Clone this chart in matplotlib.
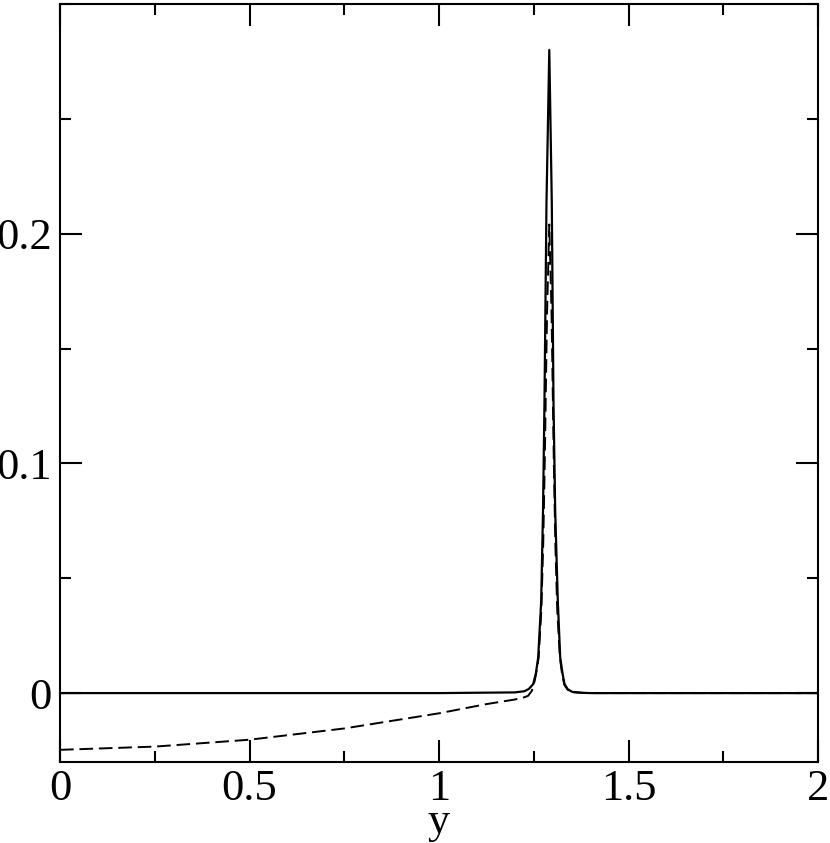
import numpy as np
import matplotlib.pyplot as plt
from matplotlib.ticker import MultipleLocator

# values
x_solid = [0.0, 0.5, 1.0, 1.2, 1.225, 1.237, 1.2485, 1.2555, 1.2617, 1.2696, 1.2745,
           1.2783, 1.2836, 1.2910, 1.2976, 1.3021, 1.3065, 1.3135, 1.3198, 1.326,
           1.3312, 1.340, 1.352, 1.38, 1.4, 2.0]
y_solid = [0.0, 0.0, 0.0, 0.0003, 0.0008, 0.0018, 0.0039, 0.0085, 0.0155, 0.040, 0.080,
           0.1268, 0.2136, 0.2800, 0.2136, 0.1268, 0.080, 0.040, 0.0155, 0.0085,
           0.0039, 0.0016, 0.0005, 0.0001, 0.0, 0.0]

x_dash = [0.0, 0.25, 0.5, 0.75, 1.0, 1.125, 1.2, 1.222, 1.235, 1.245, 1.252, 1.258, 1.263,
          1.270, 1.275, 1.279, 1.285, 1.291, 1.297, 1.303, 1.307, 1.312, 1.319, 1.325,
          1.331, 1.340, 1.352, 1.38, 1.4, 2.0]
y_dash = [-0.0247, -0.0233, -0.0203, -0.0154, -0.0088, -0.0048, -0.0028, -0.0020, -0.0012,
          0.0010, 0.0050, 0.0100, 0.0155, 0.036, 0.065, 0.100, 0.165, 0.204, 0.165, 0.100,
          0.065, 0.036, 0.0155, 0.0080, 0.0035, 0.0014, 0.0004, 0.0001, 0.0, 0.0]

plt.rcParams['font.family'] = ['Liberation Serif', 'DejaVu Serif']

fig = plt.figure(figsize=(8.3, 8.43), dpi=100)
ax = fig.add_axes([60 / 830, 1 - 762 / 843, 758 / 830, 758 / 843])

ax.plot(x_solid, y_solid, color='black', lw=1.6)
ax.plot(x_dash, y_dash, color='black', lw=1.4, dashes=(7, 3))

ax.set_xlim(0, 2)
ax.set_ylim(-0.03, 0.3)
ax.xaxis.set_minor_locator(MultipleLocator(0.25))
ax.yaxis.set_minor_locator(MultipleLocator(0.05))
ax.set_xticks([0, 0.5, 1, 1.5, 2])
ax.set_xticklabels(['0', '0.5', '1', '1.5', '2'])
ax.set_yticks([0, 0.1, 0.2])
ax.set_yticklabels(['0', '0.1', '0.2'])

ax.tick_params(which='both', direction='in', top=True, right=True, width=1.5,
               labelsize=32)
ax.tick_params(axis='x', which='major', pad=5)
ax.tick_params(axis='y', which='major', pad=6)
ax.tick_params(which='major', length=16)
ax.tick_params(which='minor', length=8)
for s in ax.spines.values():
    s.set_linewidth(1.5)

ax.set_xlabel('y', fontsize=32, labelpad=-5)

fig.savefig('out.png', dpi=100)
